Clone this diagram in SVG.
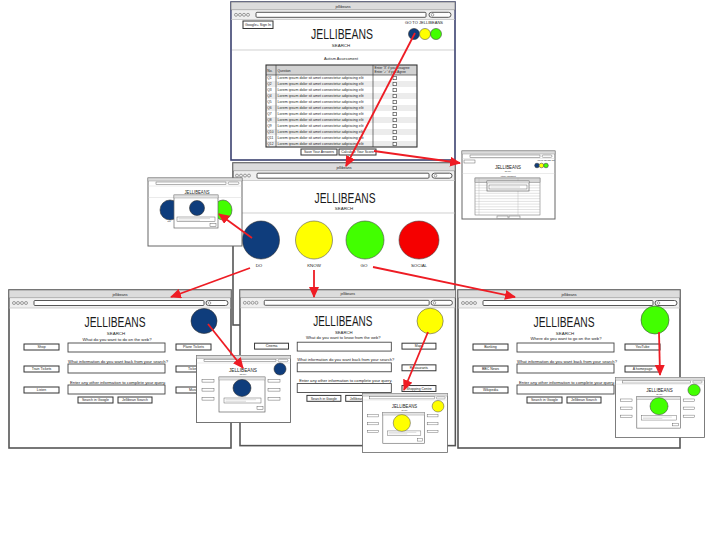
<svg xmlns="http://www.w3.org/2000/svg" width="720" height="540" viewBox="0 0 720 540">
<style>
text{font-family:"Liberation Sans",Arial,sans-serif;fill:#1a1a1a}
.c{text-anchor:middle}
.frame{fill:#fff;stroke:#555;stroke-width:1.6}
.tbar{fill:#dcdcdc;stroke:#777;stroke-width:.7}
.arow{fill:#efefef}
.fld{fill:#fff;stroke:#444;stroke-width:.9}
.btn{fill:#fff;stroke:#333;stroke-width:1}
.sep{stroke:#bbb;stroke-width:.7}
.ic{fill:none;stroke:#666;stroke-width:.6}
.mf{fill:#fff;stroke:#666;stroke-width:.7}
.mb{fill:#fff;stroke:#555;stroke-width:.45}
.ml{stroke:#aaa;stroke-width:.4}
.big{font-size:14px}
.ttl{font-size:3.6px}
.sm{font-size:4.4px}
.bl{font-size:3.5px}
.tb{font-size:3.3px}
.blue{fill:#0f3d7c;stroke:#333;stroke-width:.6}
.yel{fill:#ffff00;stroke:#555;stroke-width:.6}
.grn{fill:#42ff00;stroke:#444;stroke-width:.6}
.red{fill:#f50000;stroke:#444;stroke-width:.6}
.arr{stroke:#ee1c24;stroke-width:1.8;fill:none;marker-end:url(#ah)}
</style>
<defs>
<marker id="ah" markerUnits="userSpaceOnUse" markerWidth="11" markerHeight="10" refX="10" refY="5" orient="auto"><path d="M0,0 L11,5 L0,10 Z" fill="#ee1c24"/></marker>
<g id="nav"><circle class="ic" cx="0" cy="0" r="1.5"/><circle class="ic" cx="4" cy="0" r="1.5"/><circle class="ic" cx="8" cy="0" r="1.5"/><circle class="ic" cx="12" cy="0" r="1.5"/></g>
<g id="page">
 <rect class="frame" x="0" y="0" width="222" height="158"/>
 <rect class="tbar" x="0" y="0" width="222" height="8"/>
 <text class="ttl c" x="111" y="5.5">jellibeans</text>
 <rect class="arow" x=".8" y="8.3" width="220.4" height="9.5"/>
 <use href="#nav" x="5" y="13"/>
 <rect class="fld" x="25" y="10.5" width="170" height="5" rx="1"/>
 <rect class="fld" x="197" y="10.5" width="22" height="5" rx="2.5"/>
 <circle class="ic" cx="200.5" cy="13" r="1.3"/>
 <line class="sep" x1="0" y1="18" x2="222" y2="18"/>
 <text class="big c" x="106" y="37" textLength="61" lengthAdjust="spacingAndGlyphs">JELLIBEANS</text>
 <text class="sm c" x="107" y="44.5">SEARCH</text>
 <rect class="fld" x="59" y="53" width="97" height="9"/>
 <rect class="fld" x="59" y="74" width="97" height="9"/>
 <rect class="fld" x="59" y="95" width="97" height="9"/>
 <rect class="btn" x="15" y="54" width="35" height="6"/>
 <rect class="btn" x="15" y="76" width="35" height="6"/>
 <rect class="btn" x="15" y="97" width="35" height="6"/>
 <rect class="btn" x="167" y="54" width="35" height="6"/>
 <rect class="btn" x="167" y="76" width="35" height="6"/>
 <rect class="btn" x="167" y="97" width="35" height="6"/>
 <text class="sm c" x="109" y="72.5" textLength="100" lengthAdjust="spacingAndGlyphs">What information do you want back from your search?</text>
 <text class="sm c" x="109" y="93.5" textLength="96" lengthAdjust="spacingAndGlyphs">Enter any other information to complete your query.</text>
 <rect class="btn" x="69" y="107" width="35" height="6"/>
 <text class="bl c" x="86.5" y="111.3">Search in Google</text>
 <rect class="btn" x="109" y="107" width="34" height="6"/>
 <text class="bl c" x="126" y="111.3">Jellibean Search</text>
</g>
<g id="mini">
 <rect x=".5" y=".5" width="94" height="67" fill="#fff" stroke="#666" stroke-width=".9"/>
 <rect x=".5" y=".5" width="94" height="3" fill="#dcdcdc" stroke="#888" stroke-width=".4"/>
 <rect class="mb" x="8" y="4.3" width="72" height="2.4"/>
 <rect class="mb" x="82" y="4.3" width="10" height="2.4" rx="1.2"/>
 <line x1=".5" y1="8" x2="94.5" y2="8" stroke="#ccc" stroke-width=".4"/>
 <text class="c" x="47" y="16.5" font-size="6" textLength="28" lengthAdjust="spacingAndGlyphs">JELLIBEANS</text>
 <text class="c" x="47" y="20" font-size="1.6">SEARCH</text>
 <rect class="mb" x="6" y="24.5" width="12" height="2.6"/>
 <rect class="mb" x="6" y="33.5" width="12" height="2.6"/>
 <rect class="mb" x="6" y="42.5" width="12" height="2.6"/>
 <rect class="mb" x="72" y="24.5" width="12" height="2.6"/>
 <rect class="mb" x="72" y="33.5" width="12" height="2.6"/>
 <rect class="mb" x="72" y="42.5" width="12" height="2.6"/>
 <rect class="mf" x="23" y="22" width="46" height="35"/>
 <rect x="23" y="22" width="46" height="3" fill="#e4e4e4" stroke="#888" stroke-width=".4"/>
 <rect class="mb" x="28" y="43" width="37" height="5"/>
 <line class="ml" x1="29.5" y1="44.7" x2="60" y2="44.7"/>
 <line class="ml" x1="29.5" y1="46.3" x2="50" y2="46.3"/>
 <rect class="mb" x="61" y="51.5" width="6" height="3"/>
</g>
</defs>

<g id="assessment-page">
 <rect x="231" y="2" width="224" height="158" fill="#fff" stroke="#3b4170" stroke-width="1.6"/>
 <rect class="tbar" x="231" y="2" width="224" height="8"/>
 <text class="ttl c" x="343" y="7.5">jellibeans</text>
 <rect class="arow" x="231.8" y="10.3" width="222.4" height="9"/>
 <use href="#nav" x="236" y="14.8"/>
 <rect class="fld" x="256" y="12.3" width="170" height="5" rx="1"/>
 <rect class="fld" x="429" y="12.3" width="22" height="5" rx="2.5"/>
 <circle class="ic" cx="432.5" cy="14.8" r="1.3"/>
 <line class="sep" x1="231" y1="19.5" x2="455" y2="19.5"/>
 <rect class="btn" x="243" y="21" width="30" height="7.5"/>
 <text class="c" x="258" y="26" font-size="3.6">Google+ Sign In</text>
 <text class="c" x="424" y="24" font-size="4.4" textLength="38" lengthAdjust="spacingAndGlyphs">GO TO JELLIBEANS</text>
 <text class="big c" x="342" y="39" textLength="62" lengthAdjust="spacingAndGlyphs">JELLIBEANS</text>
 <text class="sm c" x="341" y="46.5">SEARCH</text>
 <line class="sep" x1="232" y1="50" x2="454" y2="50"/>
 <circle class="blue" cx="414" cy="34" r="5.5"/>
 <circle class="yel" cx="425" cy="34" r="5.5"/>
 <circle class="grn" cx="436" cy="34" r="5.5"/>
 <text class="sm c" x="341" y="59.5" textLength="34" lengthAdjust="spacingAndGlyphs">Autism Assessment</text>
 <rect x="266" y="65" width="151" height="10" fill="#d2d2d2"/>
 <g fill="#ececec">
  <rect x="266" y="81" width="151" height="6"/><rect x="266" y="93" width="151" height="6"/><rect x="266" y="105" width="151" height="6"/>
  <rect x="266" y="117" width="151" height="6"/><rect x="266" y="129" width="151" height="6"/><rect x="266" y="141" width="151" height="6"/>
 </g>
 <g stroke="#444" stroke-width=".7">
  <line x1="276" y1="65" x2="276" y2="147"/><line x1="373" y1="65" x2="373" y2="147"/><line x1="266" y1="75" x2="417" y2="75"/>
 </g>
 <rect x="266" y="65" width="151" height="82" fill="none" stroke="#333" stroke-width="1.1"/>
 <text class="tb" x="267.3" y="71.5">No.</text>
 <text class="tb" x="277.5" y="71.5">Question</text>
 <text class="tb" x="374.5" y="69">Enter 'X' if you Disagree</text>
 <text class="tb" x="374.5" y="73.3">Enter '✓' if you Agree</text>
 <g class="tb">
  <text x="267.3" y="79.4">Q1</text><text x="267.3" y="85.4">Q2</text><text x="267.3" y="91.4">Q3</text><text x="267.3" y="97.4">Q4</text>
  <text x="267.3" y="103.4">Q5</text><text x="267.3" y="109.4">Q6</text><text x="267.3" y="115.4">Q7</text><text x="267.3" y="121.4">Q8</text>
  <text x="267.3" y="127.4">Q9</text><text x="267.3" y="133.4">Q10</text><text x="267.3" y="139.4">Q11</text><text x="267.3" y="145.4">Q12</text>
 </g>
 <g class="tb">
  <text x="277.5" y="79.4" textLength="86" lengthAdjust="spacingAndGlyphs">Lorem ipsum dolor sit amet consectetur adipiscing elit</text>
  <text x="277.5" y="85.4" textLength="86" lengthAdjust="spacingAndGlyphs">Lorem ipsum dolor sit amet consectetur adipiscing elit</text>
  <text x="277.5" y="91.4" textLength="86" lengthAdjust="spacingAndGlyphs">Lorem ipsum dolor sit amet consectetur adipiscing elit</text>
  <text x="277.5" y="97.4" textLength="86" lengthAdjust="spacingAndGlyphs">Lorem ipsum dolor sit amet consectetur adipiscing elit</text>
  <text x="277.5" y="103.4" textLength="86" lengthAdjust="spacingAndGlyphs">Lorem ipsum dolor sit amet consectetur adipiscing elit</text>
  <text x="277.5" y="109.4" textLength="86" lengthAdjust="spacingAndGlyphs">Lorem ipsum dolor sit amet consectetur adipiscing elit</text>
  <text x="277.5" y="115.4" textLength="86" lengthAdjust="spacingAndGlyphs">Lorem ipsum dolor sit amet consectetur adipiscing elit</text>
  <text x="277.5" y="121.4" textLength="86" lengthAdjust="spacingAndGlyphs">Lorem ipsum dolor sit amet consectetur adipiscing elit</text>
  <text x="277.5" y="127.4" textLength="86" lengthAdjust="spacingAndGlyphs">Lorem ipsum dolor sit amet consectetur adipiscing elit</text>
  <text x="277.5" y="133.4" textLength="86" lengthAdjust="spacingAndGlyphs">Lorem ipsum dolor sit amet consectetur adipiscing elit</text>
  <text x="277.5" y="139.4" textLength="86" lengthAdjust="spacingAndGlyphs">Lorem ipsum dolor sit amet consectetur adipiscing elit</text>
  <text x="277.5" y="145.4" textLength="86" lengthAdjust="spacingAndGlyphs">Lorem ipsum dolor sit amet consectetur adipiscing elit</text>
 </g>
 <g fill="#fff" stroke="#333" stroke-width=".6">
  <rect x="393" y="76.3" width="3.6" height="3.4"/><rect x="393" y="82.3" width="3.6" height="3.4"/><rect x="393" y="88.3" width="3.6" height="3.4"/>
  <rect x="393" y="94.3" width="3.6" height="3.4"/><rect x="393" y="100.3" width="3.6" height="3.4"/><rect x="393" y="106.3" width="3.6" height="3.4"/>
  <rect x="393" y="112.3" width="3.6" height="3.4"/><rect x="393" y="118.3" width="3.6" height="3.4"/><rect x="393" y="124.3" width="3.6" height="3.4"/>
  <rect x="393" y="130.3" width="3.6" height="3.4"/><rect x="393" y="136.3" width="3.6" height="3.4"/><rect x="393" y="142.3" width="3.6" height="3.4"/>
 </g>
 <rect class="btn" x="301" y="149" width="36" height="6"/>
 <text class="bl c" x="319" y="153.3">Save Your Answers</text>
 <rect class="btn" x="339" y="149" width="37" height="6"/>
 <text class="bl c" x="357.5" y="153.3">Calculate Your Score</text>
</g>

<g id="home-page">
 <rect class="frame" x="233" y="163" width="222" height="162"/>
 <rect class="tbar" x="233" y="163" width="222" height="8"/>
 <text class="ttl c" x="344" y="168.5">jellibeans</text>
 <rect class="arow" x="233.8" y="171.3" width="220.4" height="9"/>
 <use href="#nav" x="237" y="175.6"/>
 <rect class="fld" x="257" y="173.2" width="172" height="5" rx="1"/>
 <rect class="fld" x="432" y="173.2" width="20" height="5" rx="2.5"/>
 <circle class="ic" cx="435.5" cy="175.7" r="1.3"/>
 <line class="sep" x1="233" y1="180.5" x2="455" y2="180.5"/>
 <text class="big c" x="345" y="203" textLength="61" lengthAdjust="spacingAndGlyphs">JELLIBEANS</text>
 <text class="sm c" x="344" y="209.5">SEARCH</text>
 <line class="sep" x1="233" y1="213" x2="455" y2="213"/>
 <ellipse class="blue" cx="261" cy="240" rx="18.5" ry="19"/>
 <ellipse class="yel" cx="314" cy="240" rx="18.5" ry="19"/>
 <ellipse class="grn" cx="365" cy="240" rx="19" ry="19"/>
 <ellipse class="red" cx="419" cy="240" rx="20" ry="19"/>
 <text class="sm c" x="259" y="267">DO</text>
 <text class="sm c" x="314" y="267">KNOW</text>
 <text class="sm c" x="364" y="267">GO</text>
 <text class="sm c" x="419" y="267">SOCIAL</text>
</g>

<g id="do-preview">
 <rect x="148" y="178" width="94" height="68" fill="#fff" stroke="#666" stroke-width="1"/>
 <rect x="148" y="178" width="94" height="3" fill="#dcdcdc" stroke="#888" stroke-width=".4"/>
 <rect class="mb" x="156" y="182" width="70" height="2.4"/>
 <rect class="mb" x="228" y="182" width="11" height="2.4" rx="1.2"/>
 <line x1="148" y1="186" x2="242" y2="186" stroke="#ccc" stroke-width=".4"/>
 <text class="c" x="197" y="193.5" font-size="6" textLength="25" lengthAdjust="spacingAndGlyphs">JELLIBEANS</text>
 <text class="c" x="197" y="196.3" font-size="1.5">SEARCH</text>
 <line x1="148" y1="197.5" x2="242" y2="197.5" stroke="#ccc" stroke-width=".4"/>
 <ellipse class="blue" cx="170" cy="210" rx="10" ry="10"/>
 <ellipse class="grn" cx="223" cy="210" rx="9" ry="10"/>
 <text class="c" x="169" y="222" font-size="2">DO</text>
 <rect class="mf" x="174" y="195" width="44" height="33"/>
 <rect x="174" y="195" width="44" height="3" fill="#e4e4e4" stroke="#888" stroke-width=".4"/>
 <circle class="blue" cx="197" cy="208" r="7.5"/>
 <rect class="mb" x="177" y="217" width="38" height="4.5"/>
 <line class="ml" x1="178.5" y1="218.6" x2="210" y2="218.6"/>
 <line class="ml" x1="178.5" y1="220.2" x2="200" y2="220.2"/>
 <rect class="mb" x="210" y="223.5" width="6" height="3"/>
</g>

<g id="score-preview">
 <rect x="462" y="151" width="93" height="68" fill="#fff" stroke="#666" stroke-width="1"/>
 <rect x="462" y="151" width="93" height="3" fill="#dcdcdc" stroke="#888" stroke-width=".4"/>
 <rect class="mb" x="470" y="155" width="70" height="2.4"/>
 <rect class="mb" x="542" y="155" width="10" height="2.4" rx="1.2"/>
 <line x1="462" y1="158.5" x2="555" y2="158.5" stroke="#ccc" stroke-width=".4"/>
 <rect class="mb" x="464" y="160" width="11" height="3"/>
 <text class="c" x="546" y="160.8" font-size="1.8">GO TO JELLIBEANS</text>
 <text class="c" x="508" y="169" font-size="6" textLength="26" lengthAdjust="spacingAndGlyphs">JELLIBEANS</text>
 <text class="c" x="508" y="172" font-size="1.5">SEARCH</text>
 <circle class="blue" cx="537" cy="165.5" r="2.3"/>
 <circle class="yel" cx="541.5" cy="165.5" r="2.3"/>
 <circle class="grn" cx="546" cy="165.5" r="2.3"/>
 <line x1="462" y1="173.5" x2="555" y2="173.5" stroke="#ccc" stroke-width=".4"/>
 <text class="c" x="508" y="176.6" font-size="1.8">Autism Assessment</text>
 <rect x="475" y="178" width="65" height="37" fill="#fff" stroke="#666" stroke-width=".5"/>
 <rect x="475" y="178" width="65" height="4.5" fill="#d6d6d6" stroke="#666" stroke-width=".4"/>
 <path d="M479 178V215M518 178V215M475 185.2H540M475 187.9H540M475 190.6H540M475 193.3H540M475 196H540M475 198.7H540M475 201.4H540M475 204.1H540M475 206.8H540M475 209.5H540M475 212.2H540" stroke="#aaa" stroke-width=".35" fill="none"/>
 <rect class="mf" x="487" y="181" width="42" height="10"/>
 <rect x="487" y="181" width="42" height="2" fill="#e4e4e4" stroke="#888" stroke-width=".3"/>
 <rect class="mb" x="489" y="185" width="38" height="4"/>
 <line class="ml" x1="490.5" y1="187" x2="520" y2="187"/>
 <rect class="mb" x="497" y="216" width="11" height="2.6"/>
 <rect class="mb" x="509" y="216" width="11" height="2.6"/>
</g>

<g id="do-page" transform="translate(9,290)">
 <use href="#page"/>
 <text class="sm c" x="108" y="50.5" textLength="69" lengthAdjust="spacingAndGlyphs">What do you want to do on the web?</text>
 <text class="bl c" x="32.5" y="58.3">Shop</text>
 <text class="bl c" x="32.5" y="80.3">Train Tickets</text>
 <text class="bl c" x="32.5" y="101.3">Listen</text>
 <text class="bl c" x="184.5" y="58.3">Plane Tickets</text>
 <text class="bl c" x="184.5" y="80.3">Tickets</text>
 <text class="bl c" x="184.5" y="101.3">Music</text>
 <ellipse class="blue" cx="195" cy="31" rx="13" ry="12.5"/>
</g>

<g id="know-page" transform="translate(240,290) scale(0.97,0.985)">
 <use href="#page"/>
 <text class="sm c" x="106.5" y="50" textLength="77" lengthAdjust="spacingAndGlyphs">What do you want to know from the web?</text>
 <text class="bl c" x="32.5" y="58.3">Cinema</text>
 <text class="bl c" x="184.5" y="58.3">Maps</text>
 <text class="bl c" x="184.5" y="80.3">Restaurants</text>
 <text class="bl c" x="184.5" y="101.3">Shopping Centre</text>
 <ellipse class="yel" cx="196" cy="31.5" rx="13.5" ry="13"/>
</g>

<g id="go-page" transform="translate(458,290)">
 <use href="#page"/>
 <text class="sm c" x="108" y="50" textLength="71" lengthAdjust="spacingAndGlyphs">Where do you want to go on the web?</text>
 <text class="bl c" x="32.5" y="58.3">Banking</text>
 <text class="bl c" x="32.5" y="80.3">BBC News</text>
 <text class="bl c" x="32.5" y="101.3">Wikipedia</text>
 <text class="bl c" x="184.5" y="58.3">YouTube</text>
 <text class="bl c" x="184.5" y="80.3">A homepage</text>
 <ellipse class="grn" cx="197" cy="30" rx="14" ry="14"/>
</g>

<g id="do-popup" transform="translate(196,355)">
 <use href="#mini"/>
 <circle class="blue" cx="84" cy="14" r="6"/>
 <ellipse class="blue" cx="46" cy="33" rx="9" ry="8.5"/>
</g>

<g id="know-popup" transform="translate(362,393) scale(0.905,0.882)">
 <use href="#mini"/>
 <circle class="yel" cx="84" cy="15" r="6.5"/>
 <circle class="yel" cx="44" cy="34" r="9.5"/>
</g>

<g id="go-popup" transform="translate(615,377) scale(0.947,0.897)">
 <use href="#mini"/>
 <circle class="grn" cx="83.5" cy="14.5" r="6.5"/>
 <circle class="grn" cx="46.5" cy="32.5" r="9.5"/>
</g>

<g id="connectors" class="arr">
 <line x1="415" y1="33" x2="346" y2="166"/>
 <line x1="374" y1="151" x2="460" y2="163"/>
 <line x1="252" y1="238" x2="219" y2="214"/>
 <line x1="250" y1="268" x2="171" y2="297"/>
 <line x1="314" y1="270" x2="314" y2="297"/>
 <line x1="373" y1="267" x2="515" y2="297"/>
 <line x1="208" y1="324" x2="243" y2="368"/>
 <line x1="428" y1="332" x2="404" y2="390"/>
 <line x1="659" y1="332" x2="660" y2="375"/>
</g>
</svg>
